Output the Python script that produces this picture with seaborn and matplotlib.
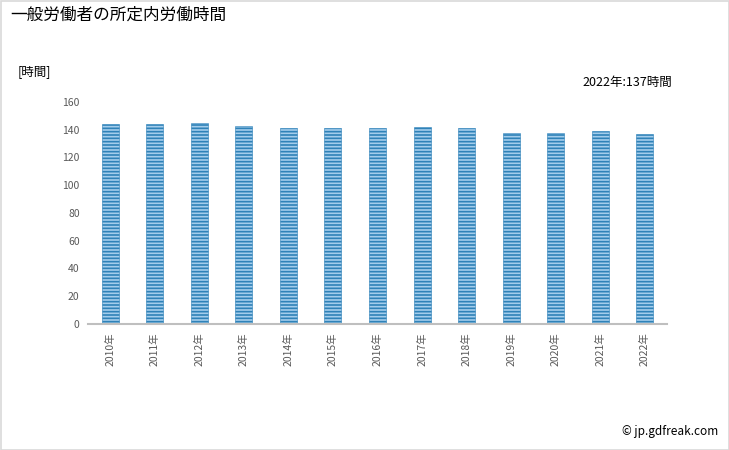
import matplotlib
matplotlib.use("Agg")
import matplotlib.pyplot as plt
import seaborn as sns
import pandas as pd
from matplotlib.patches import Rectangle

years = ["2010年", "2011年", "2012年", "2013年", "2014年", "2015年", "2016年",
         "2017年", "2018年", "2019年", "2020年", "2021年", "2022年"]
hours = [144, 144, 145, 143, 141, 141, 141, 142, 141, 138, 138, 139, 137]
yticks = [0, 20, 40, 60, 80, 100, 120, 140, 160]

sns.set_style("white")
plt.rcParams['font.family'] = ['Noto Sans CJK JP', 'DejaVu Sans']
plt.rcParams['hatch.linewidth'] = 1.2

df = pd.DataFrame({"year": years, "hours": hours})

fig = plt.figure(figsize=(7.29, 4.5), dpi=100)
ax = fig.add_axes([88/729, 1-324/450, (667-88)/729, (324-102)/450])

sns.barplot(data=df, x="year", y="hours", ax=ax, color="#a4cdec",
            width=0.38, saturation=1)
for p in ax.patches:
    p.set_hatch("-----")
    p.set_edgecolor("#2f82b8")
    p.set_linewidth(0.4)

ax.set_ylim(0, 160)
ax.set_xlim(-0.5, len(years) - 0.5)
ax.set_yticks(yticks)
ax.set_yticklabels([str(v) for v in yticks], fontsize=7.5, color="#595959")
ax.set_xticks(range(len(years)))
ax.set_xticklabels(years, rotation=90, fontsize=7.5, color="#595959")
ax.tick_params(axis="both", length=0, pad=6)
ax.set_xlabel("")
ax.set_ylabel("")
for s in ["top", "right", "left"]:
    ax.spines[s].set_visible(False)
ax.spines["bottom"].set_color("#bfbfbf")
ax.spines["bottom"].set_linewidth(1.5)

fig.text(10/729, 1-15/450, "一般労働者の所定内労働時間", fontsize=12, va="center", ha="left", color="#000000")
fig.text(18/729, 1-72/450, "[時間]", fontsize=9, va="center", ha="left", color="#000000")
fig.text(672/729, 1-82/450, "2022年:137時間", fontsize=9, va="center", ha="right", color="#000000")
fig.text(718/729, 1-432/450, "© jp.gdfreak.com", fontsize=8.5, va="center", ha="right", color="#000000")

fig.patches.append(Rectangle((0.5/729, 0.5/450), 1-1/729, 1-1/450, transform=fig.transFigure,
                             fill=False, edgecolor="#d9d9d9", linewidth=1.2))

fig.savefig("out.png", dpi=100)
